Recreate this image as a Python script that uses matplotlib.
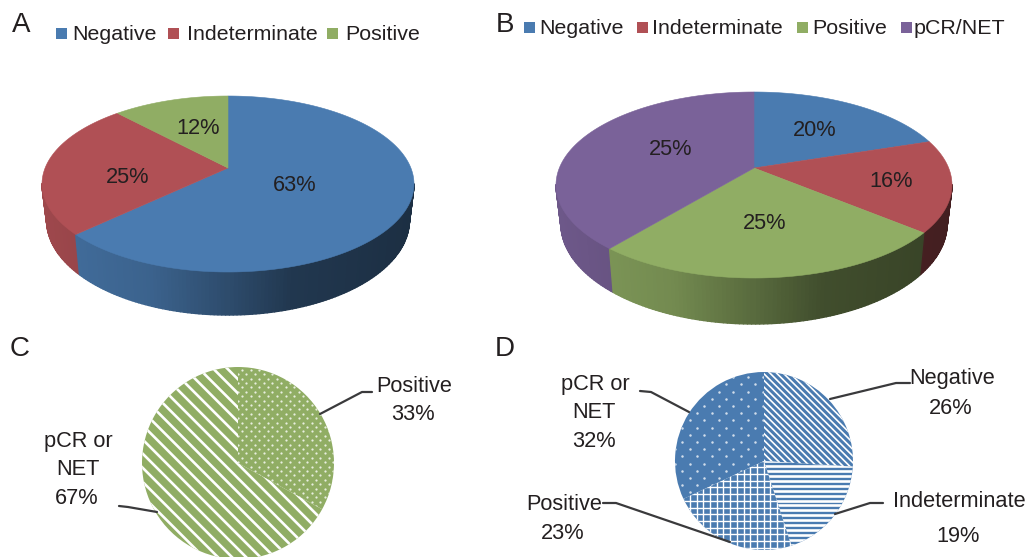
#!/usr/bin/env python3
"""Four pie panels: two perspective pies with legends, two patterned pies."""

import matplotlib
matplotlib.use("Agg")
import matplotlib.pyplot as plt
import numpy as np
from matplotlib.collections import PolyCollection
from matplotlib.colors import to_rgb
from matplotlib.patches import Rectangle

WIDTH, HEIGHT = 1026, 557

BLUE = "#4a7bb0"
RED = "#b05055"
GREEN = "#90ad64"
PURPLE = "#7a6299"
TEXT = "#231f20"
LINE = "#3a3a3c"

# Panel A
A_NAMES = ["Negative", "Indeterminate", "Positive"]
A_VALUES = [63, 25, 12]
A_LABELS = ["63%", "25%", "12%"]

# Panel B: the drawn slices do not follow the printed 25% of the purple slice
B_NAMES = ["Negative", "Indeterminate", "Positive", "pCR/NET"]
B_VALUES = [20, 16, 25, 39]
B_LABELS = ["20%", "16%", "25%", "25%"]

# Panel C
C_VALUES = [33, 67]

# Panel D
D_VALUES = [26, 19, 23, 32]

plt.rcParams["font.family"] = ["Liberation Sans", "DejaVu Sans"]

fig = plt.figure(figsize=(WIDTH / 100, HEIGHT / 100), dpi=100)
ax = fig.add_axes([0, 0, 1, 1])


def py(y):
    """Picture row to axes y."""
    return HEIGHT - y


def label(x, y, text, size=15.7):
    ax.text(x, py(y + 1.5), text, fontsize=size, color=TEXT, ha="center", va="center")


def shade(color, rel):
    """Darken a wall colour from left to right of the pie."""
    f = np.interp(rel, [-1, -0.4, 0, 0.35, 1], [0.9, 0.8, 0.62, 0.45, 0.38])
    return tuple(c * f for c in to_rgb(color))


def pie_3d(values, colors, cx, cy, rx, up, down, depth):
    """Perspective pie, clockwise from 12 o'clock. up/down: apex to far/near edge."""
    k = (down - up) / (down + up)
    s = up * (1 + k)
    r = rx * np.sqrt(1 - k * k)

    def project(theta):
        u, v = np.sin(theta), np.cos(theta)
        w = 1 + k * v
        return cx + r * u / w, cy - s * v / w, w, v

    edges = np.radians(np.cumsum([0] + list(values)) / sum(values) * 360)

    quads, quad_colors, order = [], [], []
    for i, color in enumerate(colors):
        n = max(int(np.degrees(edges[i + 1] - edges[i])), 2)
        t = np.linspace(edges[i], edges[i + 1], n + 1)
        x, y, w, v = project(t)
        xb = cx + (x - cx) * 0.975
        yb = y + depth * (1 - k) / w
        for j in range(n):
            # only the near side of the rim shows below the top face
            if v[j] > -k and v[j + 1] > -k:
                continue
            quads.append([(x[j], py(y[j])), (x[j + 1], py(y[j + 1])),
                          (xb[j + 1], py(yb[j + 1])), (xb[j], py(yb[j]))])
            quad_colors.append(shade(color, (x[j] - cx) / rx))
            order.append(v[j])
    idx = np.argsort(order)[::-1]
    fc = [quad_colors[i] for i in idx]
    ax.add_collection(PolyCollection([quads[i] for i in idx], facecolors=fc,
                                     edgecolors=fc, linewidths=1.0))

    for i, color in enumerate(colors):
        n = max(int(np.degrees(edges[i + 1] - edges[i])), 2)
        x, y, _, _ = project(np.linspace(edges[i], edges[i + 1], n + 1))
        ax.fill(np.r_[cx, x], py(np.r_[cy, y]), color=color, lw=0.4)


def legend(items, colors, swatch_x, text_x, y):
    for name, color, sx, tx in zip(items, colors, swatch_x, text_x):
        ax.add_patch(Rectangle((sx, py(y + 6)), 11, 11.5, color=color, lw=0))
        ax.text(tx, py(y + 1.5), name, fontsize=15.4, color=TEXT, ha="left", va="center")


def stripes(wedge, cx, cy, radius, angle, period, lw, color="white"):
    """White lines at a fixed spacing, clipped to one wedge."""
    a = np.radians(angle)
    d = np.array([np.cos(a), np.sin(a)])
    n = np.array([-d[1], d[0]])
    for off in np.arange(-radius, radius + period, period):
        p0 = np.array([cx, cy]) + n * off - d * radius * 1.2
        p1 = np.array([cx, cy]) + n * off + d * radius * 1.2
        line, = ax.plot([p0[0], p1[0]], [p0[1], p1[1]], color=color, lw=lw,
                        solid_capstyle="butt")
        line.set_clip_path(wedge)


def dots(wedge, cx, cy, radius, xstep, ystep, size, alpha=1.0):
    """Staggered white dots, clipped to one wedge."""
    xs, ys = [], []
    for i, y in enumerate(np.arange(cy - radius, cy + radius, ystep)):
        shift = xstep / 2 if i % 2 else 0
        row = np.arange(cx - radius, cx + radius, xstep) + shift
        xs.extend(row)
        ys.extend([y] * len(row))
    pts = ax.scatter(xs, ys, s=size, color="white", lw=0, alpha=alpha)
    pts.set_clip_path(wedge)


def leader(xs, ys):
    ax.plot(xs, [py(y) for y in ys], color=LINE, lw=1.6, solid_capstyle="round")


# Panel A
pie_3d(A_VALUES, [BLUE, RED, GREEN], 228, 168, 186, 72, 104, 43)
legend(A_NAMES, [BLUE, RED, GREEN], [56, 168, 327], [72, 187, 345], 33)
for (x, y), text in zip([(295, 184), (128, 176), (198, 127)], A_LABELS):
    label(x, y, text)

# Panel B
pie_3d(B_VALUES, [BLUE, RED, GREEN, PURPLE], 754, 168, 198, 76, 110, 46)
legend(B_NAMES, [BLUE, RED, GREEN, PURPLE], [524, 637, 797, 901],
       [539, 652, 812, 914], 27)
for (x, y), text in zip([(815, 129), (891, 180), (765, 222), (671, 148)], B_LABELS):
    label(x, y, text)

# Panel C
cx, cy, radius = 238, py(463), 96
wedges_c, _ = ax.pie(C_VALUES, colors=[GREEN, GREEN], startangle=90, counterclock=False,
                     center=(cx, cy), radius=radius, wedgeprops={"lw": 0})
dots(wedges_c[0], cx, cy, radius, 8.7, 4.4, 2.6, alpha=0.8)
stripes(wedges_c[1], cx, cy, radius * 1.05, -45, 10, 1.9)
label(414, 385, "Positive")
label(413, 413, "33%")
label(78, 440, "pCR or")
label(78, 468, "NET")
label(77, 497, "67%")
leader([320, 362, 372], [414, 392, 392])
leader([157, 128, 119], [512, 507, 506])

# Panel D
cx, cy, radius = 764, py(461), 89
wedges_d, _ = ax.pie(D_VALUES, colors=[BLUE] * 4, startangle=90, counterclock=False,
                     center=(cx, cy), radius=radius, wedgeprops={"lw": 0})
stripes(wedges_d[0], cx, cy, radius * 1.05, -45, 4.7, 1.2)
stripes(wedges_d[1], cx, cy, radius * 1.05, 0, 4.9, 1.9)
stripes(wedges_d[2], cx, cy, radius * 1.05, 0, 6.7, 1.0)
stripes(wedges_d[2], cx, cy, radius * 1.05, 90, 6.7, 1.0)
dots(wedges_d[3], cx, cy, radius, 14.6, 7.2, 3.2, alpha=0.75)
label(952, 377, "Negative")
label(951, 407, "26%")
label(595, 383, "pCR or")
label(594, 411, "NET")
label(594, 440, "32%")
label(564, 503, "Positive")
label(563, 532, "23%")
label(959, 500, "Indeterminate")
label(958, 535, "19%")
leader([830, 896, 910], [399, 383, 383])
leader([689, 651, 640], [412, 392, 391])
leader([603, 616, 730], [503, 503, 542])
leader([835, 870, 883], [514, 503, 503])

# Panel letters
for x, y, letter in [(21, 24, "A"), (505, 24, "B"), (20, 348, "C"), (505, 348, "D")]:
    label(x, y, letter, size=20)

ax.set_xlim(0, WIDTH)
ax.set_ylim(0, HEIGHT)
ax.set_aspect("auto")
ax.axis("off")

fig.savefig("out.png", dpi=100)
plt.close(fig)
